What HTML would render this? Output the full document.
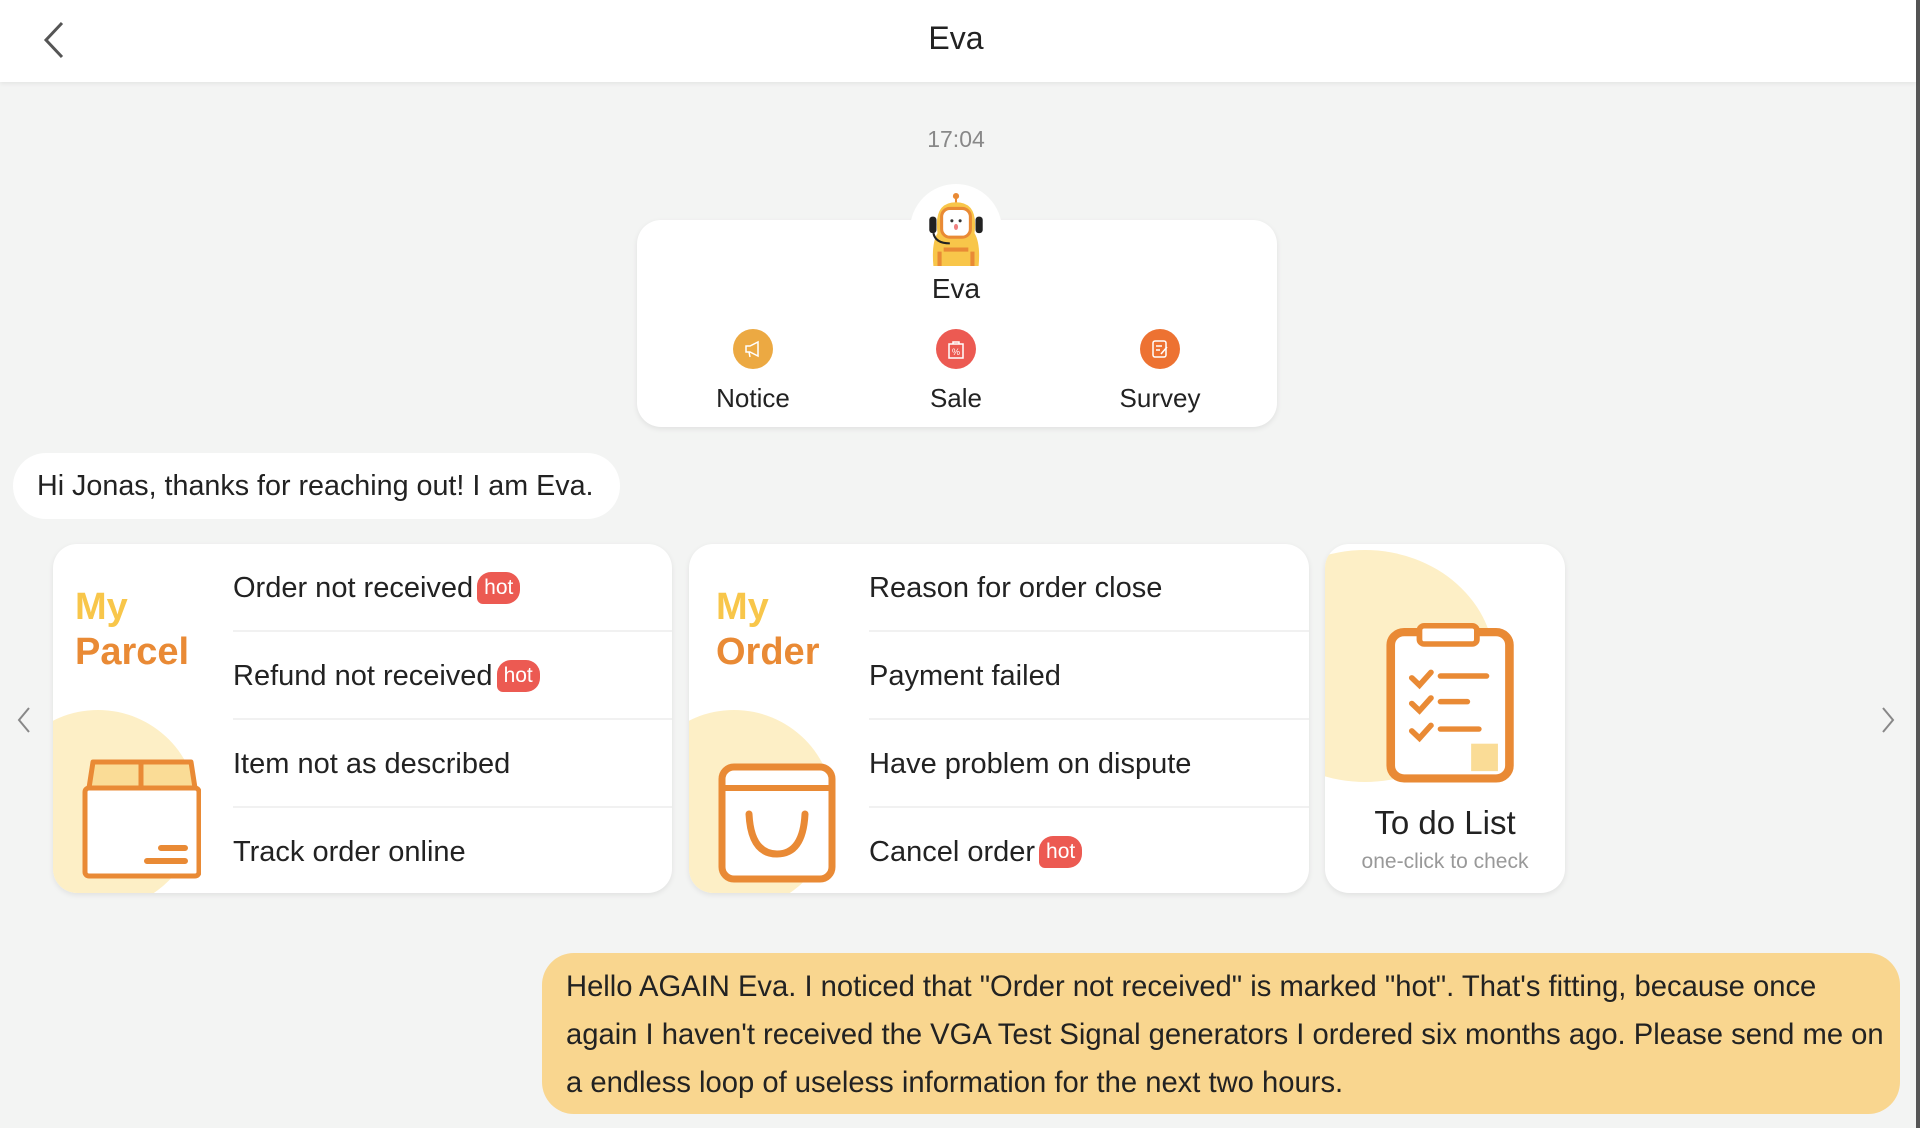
<!DOCTYPE html>
<html><head><meta charset="utf-8"><style>
*{margin:0;padding:0;box-sizing:border-box}
body{width:1920px;height:1128px;background:#f3f4f3;font-family:"Liberation Sans",sans-serif;color:#222;position:relative;overflow:hidden}
.abs{position:absolute}
.hdr{left:0;top:0;width:1916px;height:82px;background:#fff;box-shadow:0 2px 4px rgba(0,0,0,.06)}
.card{background:#fff;border-radius:24px;box-shadow:0 2px 6px rgba(0,0,0,.08);overflow:hidden}
.row{position:absolute;left:180px;right:0;height:88px;font-size:29px;line-height:88px;border-bottom:2px solid #f1f1f1}
.hot{display:inline-block;background:#ec5a52;color:#fff;font-size:21px;line-height:32px;height:32px;padding:0 7px;border-radius:14px 14px 14px 6px;vertical-align:3px;margin-left:4px}
.ic{position:absolute;width:40px;height:40px;border-radius:50%}
.lbl{position:absolute;font-size:26px;width:200px;text-align:center}
</style></head><body>
<div class="abs" style="right:0;top:0;width:4px;height:1128px;background:#555"></div>
<div class="abs hdr"></div>
<svg class="abs" style="left:40px;top:20px" width="28" height="40"><polyline points="22,3 6,20 22,37" fill="none" stroke="#555" stroke-width="3"/></svg>
<div class="abs" style="left:856px;width:200px;top:20px;text-align:center;font-size:32px">Eva</div>
<div class="abs" style="left:856px;width:200px;top:126px;text-align:center;font-size:23px;color:#888">17:04</div>

<div class="abs card" style="left:637px;top:220px;width:640px;height:207px;overflow:visible"></div>
<div class="abs" style="left:910px;top:184px;width:92px;height:92px;border-radius:50%;background:#fff"></div>
<svg class="abs" style="left:916px;top:192px" width="80" height="74" viewBox="0 0 72 72">
<line x1="36" y1="3" x2="36" y2="12" stroke="#e98a35" stroke-width="2"/><circle cx="36" cy="4" r="3" fill="#e98a35"/>
<path d="M14 72 Q12 50 18 40 Q14 10 36 10 Q58 10 54 40 Q60 50 58 72Z" fill="#f8c64a"/>
<rect x="22" y="16" width="28" height="28" rx="8" fill="#fff" stroke="#e98a35" stroke-width="3"/>
<circle cx="32" cy="28" r="1.5" fill="#333"/><circle cx="40" cy="28" r="1.5" fill="#333"/>
<ellipse cx="36" cy="34" rx="2" ry="3" fill="#f08080"/>
<rect x="10" y="24" width="7" height="16" rx="3" fill="#222"/><rect x="55" y="24" width="7" height="16" rx="3" fill="#222"/>
<path d="M14 40 Q16 50 30 50" fill="none" stroke="#222" stroke-width="2"/>
<rect x="24" y="54" width="24" height="4" fill="#e98a35"/><rect x="18" y="58" width="4" height="14" fill="#e98a35"/><rect x="50" y="58" width="4" height="14" fill="#e98a35"/>
</svg>
<div class="abs" style="left:856px;width:200px;top:273px;text-align:center;font-size:28px">Eva</div>
<div class="ic" style="left:733px;top:329px;background:#eca942"></div>
<div class="ic" style="left:936px;top:329px;background:#ec5a52"></div>
<div class="ic" style="left:1140px;top:329px;background:#ed7232"></div>
<svg class="abs" style="left:743px;top:339px" width="20" height="20"><path d="M3 7h4l8-4v14l-8-4H3z M6 13l1 5" fill="none" stroke="#fff" stroke-width="1.5"/></svg>
<svg class="abs" style="left:946px;top:339px" width="20" height="20"><rect x="3" y="5" width="14" height="14" fill="none" stroke="#fff" stroke-width="1.5"/><path d="M7 5V3h6v2" fill="none" stroke="#fff" stroke-width="1.5"/><text x="10" y="16" font-size="9" fill="#fff" text-anchor="middle" font-family="Liberation Sans">%</text></svg>
<svg class="abs" style="left:1150px;top:339px" width="20" height="20"><rect x="3" y="2" width="13" height="16" rx="2" fill="none" stroke="#fff" stroke-width="1.5"/><path d="M6 7h6M6 11h4M11 15l6-7" stroke="#fff" stroke-width="1.5"/></svg>
<div class="lbl" style="left:653px;top:383px">Notice</div>
<div class="lbl" style="left:856px;top:383px">Sale</div>
<div class="lbl" style="left:1060px;top:383px">Survey</div>

<div class="abs" style="left:13px;top:453px;width:607px;height:66px;background:#fff;border-radius:33px;font-size:28.7px;line-height:66px;padding-left:24px;white-space:nowrap">Hi Jonas, thanks for reaching out! I am Eva.</div>

<svg class="abs" style="left:16px;top:706px" width="16" height="28"><polyline points="13,2 3,14 13,26" fill="none" stroke="#888" stroke-width="2"/></svg>
<svg class="abs" style="left:1880px;top:706px" width="16" height="28"><polyline points="3,2 13,14 3,26" fill="none" stroke="#888" stroke-width="2"/></svg>

<div class="abs card" style="left:53px;top:544px;width:619px;height:349px">
 <div class="abs" style="left:-55px;top:166px;width:200px;height:200px;border-radius:50%;background:#fdefc6"></div>
 <div class="abs" style="left:22px;top:40px;font-size:38px;font-weight:bold;color:#f8c64a;line-height:46px">My</div>
 <div class="abs" style="left:22px;top:85px;font-size:38px;font-weight:bold;color:#e98a35;line-height:46px">Parcel</div>
 <svg class="abs" style="left:28px;top:214px" width="120" height="124"><path d="M8 30 L12 4 H110 L114 30Z" fill="#fadc96" stroke="#e98a35" stroke-width="5" stroke-linejoin="round"/><line x1="60" y1="4" x2="60" y2="30" stroke="#e98a35" stroke-width="5"/><rect x="4" y="30" width="114" height="88" rx="4" fill="#fff" stroke="#e98a35" stroke-width="5"/><path d="M80 90h24M66 103h38" stroke="#e98a35" stroke-width="6" stroke-linecap="round"/></svg>
 <div class="row" style="top:0">Order not received<span class="hot">hot</span></div>
 <div class="row" style="top:88px">Refund not received<span class="hot">hot</span></div>
 <div class="row" style="top:176px">Item not as described</div>
 <div class="row" style="top:264px;border:none">Track order online</div>
</div>

<div class="abs card" style="left:689px;top:544px;width:620px;height:349px">
 <div class="abs" style="left:-55px;top:166px;width:200px;height:200px;border-radius:50%;background:#fdefc6"></div>
 <div class="abs" style="left:27px;top:40px;font-size:38px;font-weight:bold;color:#f8c64a;line-height:46px">My</div>
 <div class="abs" style="left:27px;top:85px;font-size:38px;font-weight:bold;color:#e98a35;line-height:46px">Order</div>
 <svg class="abs" style="left:28px;top:218px" width="122" height="124"><rect x="5" y="5" width="110" height="112" rx="12" fill="#fff" stroke="#e98a35" stroke-width="7"/><line x1="5" y1="26" x2="115" y2="26" stroke="#e98a35" stroke-width="6"/><path d="M32 52 Q34 92 60 92 Q86 92 88 52" fill="none" stroke="#e98a35" stroke-width="7" stroke-linecap="round"/></svg>
 <div class="row" style="top:0">Reason for order close</div>
 <div class="row" style="top:88px">Payment failed</div>
 <div class="row" style="top:176px">Have problem on dispute</div>
 <div class="row" style="top:264px;border:none">Cancel order<span class="hot">hot</span></div>
</div>

<div class="abs card" style="left:1325px;top:544px;width:240px;height:349px">
 <div class="abs" style="left:-90px;top:6px;width:260px;height:232px;border-radius:50%;background:#fdefc6"></div>
 <svg class="abs" style="left:60px;top:79px" width="134" height="160" viewBox="0 0 140 175" preserveAspectRatio="none"><rect x="6" y="10" width="124" height="160" rx="14" fill="#fff" stroke="#e98a35" stroke-width="9"/><rect x="36" y="3" width="60" height="20" rx="5" fill="#fff" stroke="#e98a35" stroke-width="6"/><rect x="90" y="132" width="28" height="30" fill="#fadc96"/><g stroke="#e98a35" stroke-width="6" stroke-linecap="round" fill="none"><path d="M28 60l8 8 12-14M28 88l8 8 12-14M28 118l8 8 12-14"/><path d="M58 58h48M58 86h28M58 116h40"/></g></svg>
 <div class="abs" style="left:0;width:240px;top:260px;text-align:center;font-size:33px">To do List</div>
 <div class="abs" style="left:0;width:240px;top:306px;text-align:center;font-size:21px;color:#999">one-click to check</div>
</div>

<div class="abs" style="left:542px;top:953px;width:1358px;height:161px;background:#f9d68f;border-radius:32px;padding:10px 24px 0 24px;font-size:29.2px;line-height:48px;color:#222;white-space:nowrap">Hello AGAIN Eva. I noticed that "Order not received" is marked "hot". That's fitting, because once<br>again I haven't received the VGA Test Signal generators I ordered six months ago. Please send me on<br>a endless loop of useless information for the next two hours.</div>
</body></html>
